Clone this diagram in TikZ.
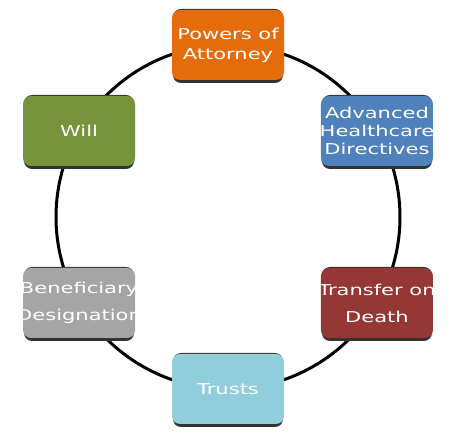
\documentclass[tikz,border=0pt]{standalone}
\usepackage{fontspec}
\usetikzlibrary{calc}
\newfontfamily\boxfont[FakeStretch=1.4]{DejaVu Sans}
\definecolor{attorneyorange}{RGB}{228,108,10}
\definecolor{healthblue}{RGB}{79,129,189}
\definecolor{deathred}{RGB}{149,55,53}
\definecolor{trustblue}{RGB}{146,205,220}
\definecolor{benegray}{RGB}{165,165,165}
\definecolor{willgreen}{RGB}{119,147,60}

\begin{document}
\begin{tikzpicture}[x=1pt, y=1pt,
  item/.style={rounded corners=8pt, minimum width=112pt, minimum height=70pt,
    inner sep=0pt},
  itemtext/.style={text=white, align=center, inner sep=0pt}]
  \useasboundingbox (0,0) rectangle (456,444);
  \pgfmathsetmacro{\R}{172}
  \coordinate (c) at (228,227);
  \draw[line width=3pt] (c) circle (\R);
  \foreach \name/\ang/\col/\lsk/\txt in {
      attorney/90/attorneyorange/20/{Powers of\\Attorney},
      health/30/healthblue/18/{Advanced\\Healthcare\\Directives},
      death/-30/deathred/27/{Transfer on\\Death},
      trusts/-90/trustblue/20/{Trusts},
      bene/-150/benegray/27/{Beneficiary\\Designation},
      will/150/willgreen/20/{Will}}
  {
    \fill[black!80, rounded corners=8pt]
      ($(c)+(\ang:\R)+(-55,-38)$) rectangle ($(c)+(\ang:\R)+(55,36)$);
    \node[item, fill=\col,
      label={[itemtext, font=\boxfont\fontsize{15}{\lsk}\selectfont]center:{\txt}}]
      (\name) at ($(c)+(\ang:\R)$) {};
  }
\end{tikzpicture}
\end{document}
